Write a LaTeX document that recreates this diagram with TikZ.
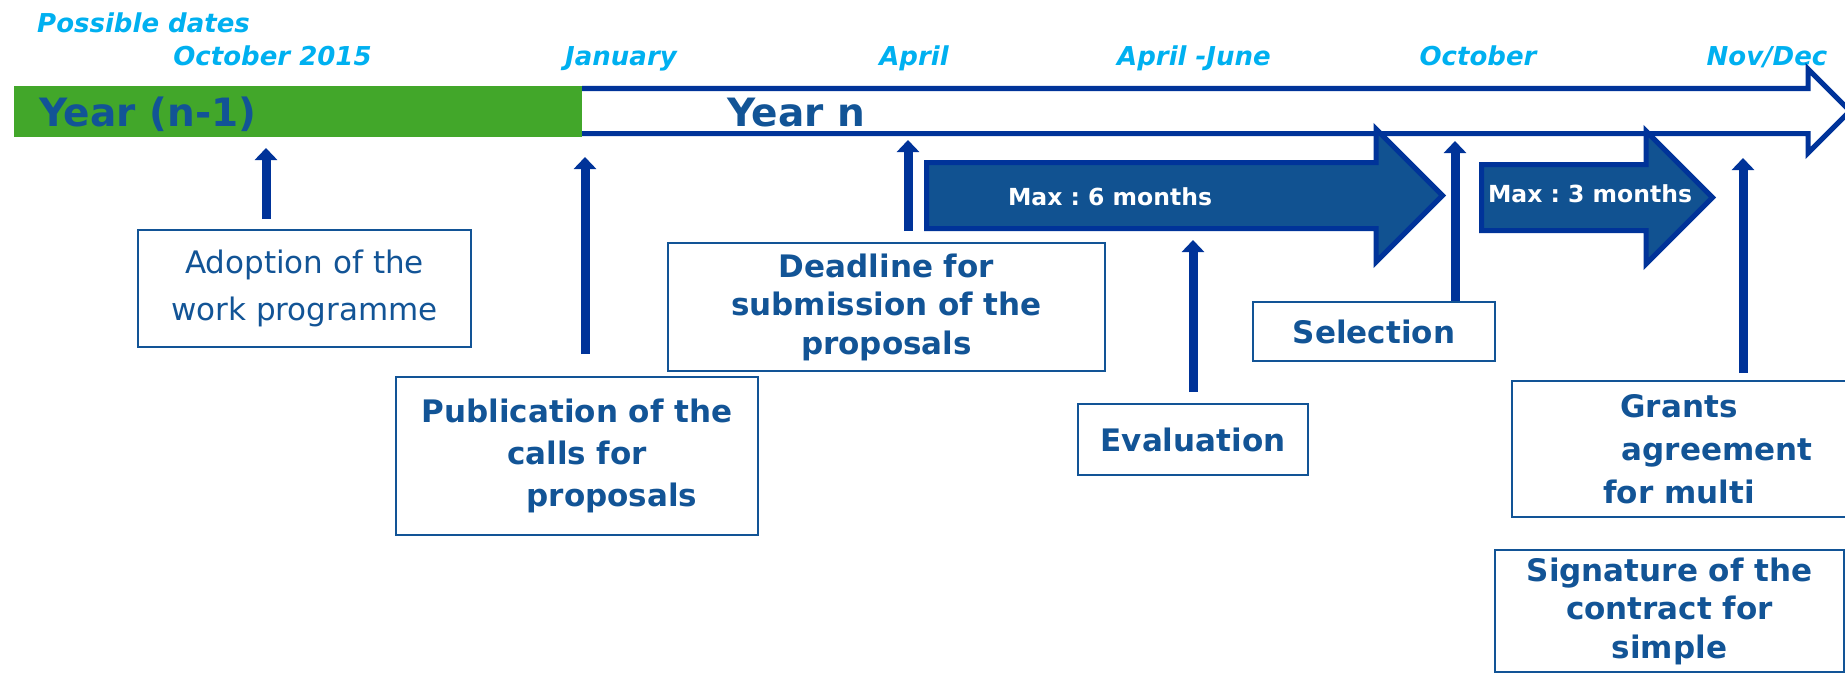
\documentclass[tikz,border=0pt]{standalone}
\usepackage{fontspec}
\setmainfont{DejaVu Sans}
\usetikzlibrary{arrows.meta}
\definecolor{lineblue}{RGB}{0, 51, 153}
\definecolor{textblue}{RGB}{18, 84, 150}
\definecolor{blockblue}{RGB}{17, 82, 145}
\definecolor{dateblue}{RGB}{0, 176, 240}
\definecolor{yeargreen}{RGB}{66, 167, 42}
\frenchspacing

\begin{document}
\begin{tikzpicture}[x=1pt, y=-1pt,
    box/.style={rectangle, draw=textblue, line width=2pt, fill=white, inner sep=0pt, align=center, text=textblue, font=\fontsize{31}{38.5}\selectfont\bfseries},
    datelbl/.style={anchor=base, inner sep=0pt, text=dateblue, font=\fontsize{26}{30}\selectfont\bfseries\itshape},
    yearlbl/.style={anchor=base west, inner sep=0pt, text=textblue, font=\fontsize{39}{45}\selectfont\bfseries},
    maxlbl/.style={anchor=base, inner sep=0pt, text=white, font=\fontsize{23.5}{28}\selectfont\bfseries},
    block/.style={draw=lineblue, fill=blockblue, line width=5pt, line join=miter},
    arr/.style={draw=lineblue, line width=9pt, -{Triangle[width=22pt,length=12pt]}}
]
    \useasboundingbox (0,0) rectangle (1845,677);

    % dates along the top
    \node[datelbl, anchor=base west] (possible) at (37,32.5) {Possible dates};
    \node[datelbl] (oct15) at (272.5,65.5) {October 2015};
    \node[datelbl] (jan)   at (621,65.5)   {January};
    \node[datelbl] (apr)   at (914,65.5)   {April};
    \node[datelbl] (aprjun) at (1194,65.5) {April -June};
    \node[datelbl] (oct)   at (1478,65.5)  {October};
    \node[datelbl] (novdec) at (1767,65.5) {Nov/Dec};

    % the year bar
    \fill[yeargreen] (14,86) rectangle (582,137);
    \filldraw[fill=white, draw=lineblue, line width=5pt, line join=miter]
        (582,88.5) -- (1808,88.5) -- (1808,69) -- (1850,111) -- (1808,153) -- (1808,133.5) -- (582,133.5);
    \node[yearlbl] (prevyear) at (39,126.5) {Year (n-1)};
    \node[yearlbl] (curyear)  at (727,126.5) {Year n};

    % durations
    \draw[block] (926.5,162.5) -- (1376,162.5) -- (1376,129) -- (1442.5,195.5) -- (1376,262) -- (1376,228.5) -- (926.5,228.5) -- cycle;
    \draw[block] (1481.5,164.5) -- (1646,164.5) -- (1646,131) -- (1712.5,197.5) -- (1646,264) -- (1646,230.5) -- (1481.5,230.5) -- cycle;
    \node[maxlbl] (max6) at (1110,205.5) {Max : 6 months};
    \node[maxlbl] (max3) at (1590,202.5) {Max : 3 months};

    % steps
    \node[box, minimum width=333, minimum height=117, font=\fontsize{31}{47}\selectfont] (adopt) at (304.5,288.5) {Adoption of the\\work programme};
    \node[box, minimum width=362, minimum height=158, font=\fontsize{31}{42}\selectfont\bfseries] (publ) at (577,456) {Publication of the\\calls for\\\hspace*{70pt}proposals};
    \node[box, minimum width=437, minimum height=128] (deadline) at (886.5,307) {Deadline for\\submission of the\\proposals};
    \node[box, minimum width=230, minimum height=71] (eval) at (1193,439.5) {Evaluation};
    \node[box, minimum width=242, minimum height=59] (select) at (1374,331.5) {Selection};
    \node[box, minimum width=334, minimum height=136, font=\fontsize{31}{43}\selectfont\bfseries] (grants) at (1679,449) {Grants\\\hspace*{76pt}agreement\\for multi};
    \node[box, minimum width=349, minimum height=122] (sign) at (1669.5,611) {Signature of the\\contract for\\simple};

    % arrow tips on the timeline
    \coordinate (tAdopt) at (266,148);
    \coordinate (tPubl)  at (585,157);
    \coordinate (tDead)  at (908,140);
    \coordinate (tEval)  at (1193,240);
    \coordinate (tSel)   at (1455,141);
    \coordinate (tGrant) at (1743,158);

    \draw[arr, shorten <=10pt] (adopt.north -| tAdopt) -- (tAdopt);
    \draw[arr, shorten <=22pt] (publ.north -| tPubl) -- (tPubl);
    \draw[arr, shorten <=11pt] (deadline.north -| tDead) -- (tDead);
    \draw[arr, shorten <=11pt] (eval.north -| tEval) -- (tEval);
    \draw[arr] (select.north -| tSel) -- (tSel);
    \draw[arr, shorten <=7pt] (grants.north -| tGrant) -- (tGrant);
\end{tikzpicture}
\end{document}
